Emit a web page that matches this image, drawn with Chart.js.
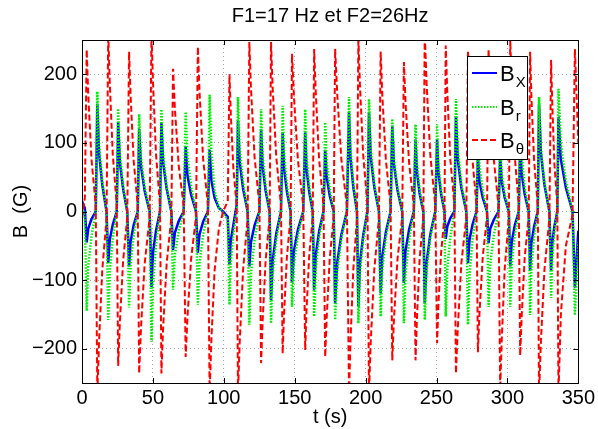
<!DOCTYPE html>
<html>
<head>
<meta charset="utf-8">
<script src="https://cdn.jsdelivr.net/npm/chart.js@4.4.1/dist/chart.umd.min.js"></script>
<style>
  html, body { margin: 0; padding: 0; background: #fff; }
  #wrap { width: 598px; height: 429px; }
</style>
</head>
<body>
<div id="wrap"><canvas id="fig"></canvas></div>
<script>
// time samples (s) and the three field components (G)
let times = [
  0.0, 2.0, 3.3, 4.4, 6.7, 9.7, 10.8, 12.0, 14.3, 17.3,
  18.5, 19.6, 21.7, 24.5, 25.5, 26.7, 29.0, 31.9, 33.2, 34.3,
  36.4, 39.3, 40.3, 41.6, 44.2, 47.7, 49.0, 50.1, 52.2, 55.0,
  56.0, 57.2, 59.7, 63.0, 64.2, 65.5, 68.2, 71.7, 73.1, 74.4,
  77.0, 80.4, 81.7, 82.9, 85.4, 88.8, 90.0, 91.3, 93.5, 96.5,
  99.5, 102.8, 104.0, 104.9, 106.7, 109.1, 110.0, 111.2, 113.6, 116.8,
  118.0, 119.2, 121.7, 125.1, 126.3, 127.4, 129.5, 132.3, 133.3, 134.5,
  137.0, 140.3, 141.5, 142.5, 144.5, 147.1, 148.1, 149.5, 152.3, 156.0,
  157.4, 158.3, 160.2, 162.7, 163.7, 164.9, 167.2, 170.3, 171.5, 172.6,
  174.7, 177.5, 178.5, 180.0, 182.9, 186.8, 188.3, 189.3, 191.3, 193.9,
  194.9, 196.0, 198.3, 201.3, 202.4, 203.6, 206.1, 209.4, 210.6, 211.8,
  214.3, 217.6, 218.8, 220.0, 222.5, 225.8, 227.0, 228.2, 230.7, 234.0,
  235.2, 236.2, 238.1, 240.7, 241.7, 243.0, 245.6, 249.1, 250.4, 251.3,
  253.2, 255.6, 256.5, 257.6, 259.7, 262.6, 263.7, 265.0, 267.5, 271.0,
  272.2, 273.3, 275.4, 278.2, 279.2, 280.3, 282.6, 285.6, 286.7, 287.9,
  290.4, 293.7, 294.9, 296.0, 298.1, 301.0, 302.0, 303.1, 305.2, 308.0,
  309.0, 310.1, 312.2, 315.0, 316.0, 316.9, 318.8, 321.4, 322.3, 323.6,
  326.1, 329.6, 330.8, 331.6, 333.1, 335.2, 336.0, 337.7, 341.2, 345.9,
  347.6, 350.0
];

let bx = [
  15, 5, -45, -25, -11, 0, 157, 86, 39, 0,
  -75, -41, -19, 0, 130, 72, 33, 0, -80, -44,
  -20, 0, 120, 66, 30, 0, -110, -60, -28, 0,
  130, 72, 33, 0, -56, -31, -14, 0, 95, 52,
  24, 0, -60, -33, -15, 0, 90, 45, 20, 5,
  0, -8, -78, -43, -20, 10, 133, 73, 33, 0,
  -80, -44, -20, 0, 120, 66, 30, 0, -129, -71,
  -32, 0, 115, 63, 29, 0, -104, -57, -26, 0,
  115, 63, 29, 0, -114, -63, -29, 0, 90, 50,
  23, 0, -134, -74, -34, 0, 145, 80, 36, 0,
  -139, -76, -35, 0, 145, 80, 36, 0, -119, -65,
  -30, 0, 125, 69, 31, 0, -104, -57, -26, 0,
  105, 58, 26, 0, -134, -74, -34, 0, 105, 58,
  26, 0, -40, -22, -10, 0, 139, 76, 35, 0,
  -75, -41, -19, 0, 80, 44, 20, 0, -46, -25,
  -12, 0, 80, 44, 20, 0, -80, -44, -20, 0,
  100, 55, 25, 0, -86, -47, -22, 0, 157, 86,
  39, 0, -86, -47, -22, 0, 138, 76, 35, 0,
  -111, -28
];

let br = [
  10, -10, -145, -80, -36, 0, 175, 96, 44, 0,
  -158, -87, -40, 0, 150, 83, 38, 0, -140, -77,
  -35, 0, 142, 78, 36, 0, -190, -105, -48, 0,
  149, 82, 37, 0, -114, -63, -29, 0, 145, 80,
  36, 0, -136, -75, -34, 0, 170, 85, 30, 6,
  -2, -12, -136, -75, -34, 5, 167, 92, 42, 0,
  -165, -91, -41, 0, 149, 82, 37, 0, -163, -90,
  -41, 0, 154, 85, 38, 0, -139, -76, -35, 0,
  149, 82, 37, 0, -153, -84, -38, 0, 130, 72,
  33, 0, -158, -87, -40, 0, 167, 92, 42, 0,
  -163, -90, -41, 0, 164, 90, 41, 0, -153, -84,
  -38, 0, 135, 74, 34, 0, -163, -90, -41, 0,
  127, 70, 32, 0, -158, -87, -40, 0, 127, 70,
  32, 0, -153, -84, -38, 0, 164, 90, 41, 0,
  -165, -91, -41, 0, 120, 66, 30, 0, -139, -76,
  -35, 0, 100, 55, 25, 0, -139, -76, -35, 0,
  145, 80, 36, 0, -151, -83, -38, 0, 167, 92,
  42, 0, -126, -69, -32, 0, 179, 98, 45, 0,
  -151, -45
];

let btheta = [
  -10, 20, 236, 170, 76, 9, -265, -191, -85, -11,
  260, 187, 83, 10, -225, -162, -72, -9, 233, 168,
  75, 9, -236, -170, -76, -9, 260, 187, 83, 10,
  -236, -170, -76, -9, 208, 150, 67, 8, -212, -153,
  -68, -8, 240, 173, 77, 10, -265, -184, -86, -25,
  0, 15, 200, 144, 64, 8, -265, -191, -85, -11,
  247, 178, 79, 10, -221, -159, -71, -9, 247, 178,
  79, 10, -207, -149, -66, -8, 230, 166, 74, 9,
  -202, -145, -65, -8, 237, 171, 76, 9, -212, -153,
  -68, -8, 237, 171, 76, 9, -265, -191, -85, -11,
  255, 184, 82, 10, -265, -191, -85, -11, 233, 168,
  75, 9, -217, -156, -69, -9, 218, 157, 70, 9,
  -217, -156, -69, -9, 260, 187, 83, 10, -192, -138,
  -61, -8, 242, 174, 77, 10, -236, -170, -76, -9,
  233, 168, 75, 9, -205, -148, -66, -8, 237, 171,
  76, 9, -260, -187, -83, -10, 250, 180, 80, 10,
  -210, -151, -67, -8, 233, 168, 75, 9, -265, -191,
  -85, -11, 221, 159, 71, 9, -265, -150, -50, -5,
  237, 100
];

let xTicks = [0, 50, 100, 150, 200, 250, 300, 350];
let yTicks = [-200, -100, 0, 100, 200];

let legendNames = [['B', 'X'], ['B', 'r'], ['B', '\u03b8']];

const FONT = '"Liberation Sans", Arial, Helvetica, sans-serif';

function pts(vals) {
    return vals.map((v, i) => ({ x: times[i], y: v }));
}

// axes box, inward ticks and the legend (MATLAB look)
const boxPlugin = {
    id: 'boxPlugin',
    afterDatasetsDraw(chart) {
        const ctx = chart.ctx;
        const a = chart.chartArea;
        const xs = chart.scales.x, ys = chart.scales.y;
        ctx.save();
        ctx.strokeStyle = '#000';
        ctx.lineWidth = 1;
        ctx.setLineDash([]);
        ctx.beginPath();
        xTicks.forEach(t => {
            const px = Math.round(xs.getPixelForValue(t)) + 0.5;
            ctx.moveTo(px, a.bottom); ctx.lineTo(px, a.bottom - 5);
            ctx.moveTo(px, a.top); ctx.lineTo(px, a.top + 5);
        });
        yTicks.forEach(t => {
            const py = Math.round(ys.getPixelForValue(t)) + 0.5;
            ctx.moveTo(a.left, py); ctx.lineTo(a.left + 5, py);
            ctx.moveTo(a.right, py); ctx.lineTo(a.right - 5, py);
        });
        ctx.stroke();
        ctx.strokeRect(Math.round(a.left) + 0.5, Math.round(a.top) + 0.5,
            Math.round(a.right - a.left), Math.round(a.bottom - a.top));

        // legend
        const lx = 467, ly = 56, lw = 60, lh = 103;
        ctx.fillStyle = '#fff';
        ctx.fillRect(lx, ly, lw, lh);
        ctx.strokeRect(lx + 0.5, ly + 0.5, lw, lh);
        const rows = [73, 107, 140];
        chart.data.datasets.slice().sort((p, q) => q.order - p.order).forEach((ds, i) => {
            const y = rows[i];
            ctx.strokeStyle = ds.borderColor;
            ctx.lineWidth = Math.min(ds.borderWidth, 2);
            ctx.setLineDash(ds.borderDash || []);
            ctx.beginPath();
            ctx.moveTo(472, y);
            ctx.lineTo(497, y);
            ctx.stroke();
            ctx.setLineDash([]);
            ctx.fillStyle = '#000';
            ctx.textBaseline = 'alphabetic';
            ctx.textAlign = 'left';
            ctx.font = '22px ' + FONT;
            ctx.fillText(legendNames[i][0], 500, y + 8);
            const w = ctx.measureText(legendNames[i][0]).width;
            ctx.font = '15px ' + FONT;
            ctx.fillText(legendNames[i][1], 500 + w + 1, y + 14);
        });
        ctx.restore();
    }
};

document.addEventListener('DOMContentLoaded', () => {

    const ctx = document.getElementById('fig');

    new Chart(ctx, {
        type: 'line',
        data: {
            datasets: [
                {
                    label: 'Bx',
                    data: pts(bx),
                    borderColor: '#0000ff',
                    borderWidth: 2.5,
                    order: 3
                },
                {
                    label: 'Br',
                    data: pts(br),
                    borderColor: '#00ee00',
                    borderWidth: 2.5,
                    borderDash: [1.5, 1.5],
                    order: 2
                },
                {
                    label: 'Btheta',
                    data: pts(btheta),
                    borderColor: '#ff0000',
                    borderWidth: 2,
                    borderDash: [6, 3],
                    order: 1
                }
            ]
        },
        options: {
            responsive: true,
            maintainAspectRatio: false,
            animation: false,
            layout: { padding: { left: 0, right: 18, top: 0, bottom: 0 } },
            elements: {
                point: { radius: 0 },
                line: { tension: 0, borderCapStyle: 'butt' }
            },
            plugins: {
                legend: { display: false },
                tooltip: { enabled: false },
                title: {
                    display: true,
                    text: 'F1=17 Hz et F2=26Hz',
                    fullSize: false,
                    color: '#000',
                    font: { family: FONT, size: 20, weight: 'normal' },
                    padding: { top: 4, bottom: 12 }
                }
            },
            scales: {
                x: {
                    type: 'linear',
                    min: 0,
                    max: 350,
                    afterFit: (s) => { s.height = 46; },
                    afterBuildTicks: (s) => { s.ticks = xTicks.map(v => ({ value: v })); },
                    ticks: {
                        color: '#000',
                        padding: 3,
                        maxRotation: 0,
                        font: { family: FONT, size: 20 }
                    },
                    grid: {
                        color: '#a8a8a8',
                        lineWidth: 1,
                        drawTicks: false
                    },
                    border: { display: false, dash: [1, 3] },
                    title: {
                        display: true,
                        text: 't (s)',
                        color: '#000',
                        padding: { top: 4, bottom: 0 },
                        font: { family: FONT, size: 20 }
                    }
                },
                y: {
                    type: 'linear',
                    min: -250,
                    max: 250,
                    afterFit: (s) => { s.width = 82; },
                    afterBuildTicks: (s) => { s.ticks = yTicks.map(v => ({ value: v })); },
                    ticks: {
                        color: '#000',
                        padding: 5,
                        font: { family: FONT, size: 20 },
                        callback: (v) => (v < 0 ? '\u2212' + Math.abs(v) : '' + v)
                    },
                    grid: {
                        color: '#a8a8a8',
                        lineWidth: 1,
                        drawTicks: false
                    },
                    border: { display: false, dash: [1, 3] },
                    title: {
                        display: true,
                        text: 'B  (G)',
                        color: '#000',
                        padding: { top: 9, bottom: 0 },
                        font: { family: FONT, size: 20 }
                    }
                }
            }
        },
        plugins: [boxPlugin]
    });

});
</script>
</body>
</html>
